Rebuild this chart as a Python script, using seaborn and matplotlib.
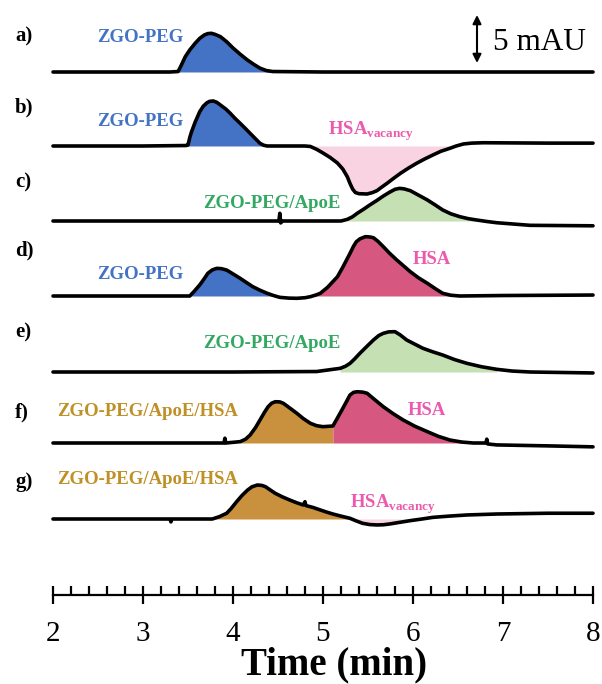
import numpy as np
import pandas as pd
import matplotlib
matplotlib.use("Agg")
import matplotlib.pyplot as plt
import seaborn as sns

# ---------------- data ----------------
trace_names = ["a", "b", "c", "d", "e", "f", "g"]

a_time = [2.0, 3.0, 3.30, 3.39, 3.42, 3.47, 3.52, 3.58, 3.63, 3.68, 3.72, 3.76, 3.80, 3.86, 3.93,
          4.00, 4.08, 4.16, 4.23, 4.30, 4.37, 4.44, 5.0, 6.0, 7.0, 8.0]
a_signal = [0.0, 0.0, 0.0, 0.05, 0.6, 1.6, 2.3, 3.0, 3.5, 3.85, 4.0, 4.03, 3.92, 3.68, 3.15,
            2.5, 1.85, 1.25, 0.8, 0.4, 0.15, 0.05, 0.0, 0.0, 0.0, 0.0]

b_time = [2.0, 3.0, 3.48, 3.50, 3.52, 3.54, 3.58, 3.63, 3.67, 3.71, 3.74, 3.78, 3.82, 3.86, 3.92,
          3.97, 4.02, 4.08, 4.14, 4.19, 4.25, 4.30, 4.34, 4.38, 4.80,
          4.86, 4.93, 5.00, 5.08, 5.16, 5.22, 5.27, 5.30, 5.33, 5.36, 5.40, 5.49, 5.55, 5.60, 5.65,
          5.71, 5.78, 5.86, 5.95, 6.04, 6.13, 6.22, 6.31, 6.41, 6.48, 6.56, 6.65, 6.78, 7.5, 8.0]
b_signal = [0.0, 0.0, 0.05, 0.1, 0.9, 1.5, 2.5, 3.57, 4.15, 4.5, 4.65, 4.69, 4.55, 4.27, 3.85,
            3.4, 2.9, 2.36, 1.8, 1.32, 0.75, 0.28, 0.08, 0.0, 0.0,
            -0.05, -0.35, -0.73, -1.2, -1.77, -2.4, -3.2, -3.9, -4.5, -4.85, -4.97, -5.0, -4.85, -4.65, -4.3,
            -3.9, -3.4, -2.85, -2.3, -1.8, -1.35, -0.94, -0.55, -0.24, 0.0, 0.21, 0.3, 0.34, 0.3, 0.3]

c_time = [2.0, 3.0, 4.0, 4.51, 4.52, 4.53, 4.55, 5.2, 5.27, 5.33, 5.38, 5.45, 5.52, 5.60, 5.67, 5.74,
          5.80, 5.85, 5.90, 5.97, 6.06, 6.16, 6.25, 6.33, 6.42, 6.52, 6.61, 6.71, 6.82, 6.93, 7.3, 8.0]
c_signal = [0.0, 0.0, 0.0, 0.0, 0.8, -0.2, 0.0, 0.0, 0.17, 0.45, 0.8, 1.22, 1.67, 2.15, 2.6, 3.0,
            3.3, 3.4, 3.35, 3.16, 2.7, 2.19, 1.65, 1.15, 0.75, 0.45, 0.25, 0.1, -0.05, -0.18, -0.45, -0.5]

d_time = [2.0, 3.0, 3.45, 3.52, 3.57, 3.63, 3.68, 3.72, 3.77, 3.82, 3.87, 3.93, 4.00, 4.08, 4.15,
          4.22, 4.30, 4.38, 4.45, 4.52, 4.62, 4.71, 4.80, 4.86, 4.92, 4.97, 5.05, 5.10, 5.16, 5.22,
          5.27, 5.30, 5.34, 5.37, 5.41, 5.47, 5.52, 5.56, 5.61, 5.67, 5.74, 5.82, 5.90, 5.97, 6.06,
          6.16, 6.25, 6.33, 6.42, 6.52, 7.0, 8.0]
d_signal = [0.0, 0.0, 0.0, 0.0, 0.5, 1.15, 1.8, 2.36, 2.72, 2.88, 2.85, 2.7, 2.3, 1.84, 1.4,
            0.97, 0.6, 0.28, 0.05, -0.14, -0.22, -0.24, -0.18, -0.07, 0.1, 0.28, 0.9, 1.4, 2.0, 3.0,
            3.9, 4.44, 5.2, 5.65, 5.95, 6.18, 6.15, 6.07, 5.7, 5.14, 4.45, 3.75, 3.1, 2.53, 1.9,
            1.32, 0.75, 0.28, 0.08, 0.0, 0.05, 0.1]

e_time = [2.0, 3.0, 4.0, 4.93, 5.19, 5.25, 5.30, 5.35, 5.41, 5.48, 5.56, 5.62, 5.67, 5.73, 5.80,
          5.86, 5.93, 6.02, 6.11, 6.22, 6.33, 6.46, 6.60, 6.76, 6.93, 7.1, 7.3, 8.0]
e_signal = [0.0, 0.0, 0.0, 0.05, 0.38, 0.6, 0.9, 1.35, 1.95, 2.6, 3.33, 3.8, 4.03, 4.18, 4.2,
            3.85, 3.33, 2.9, 2.47, 2.1, 1.77, 1.3, 0.9, 0.55, 0.28, 0.1, 0.0, -0.1]

f_time = [2.0, 3.0, 3.90, 3.91, 3.92, 4.08, 4.14, 4.19, 4.25, 4.30, 4.35, 4.39, 4.43, 4.47, 4.52,
          4.56, 4.63, 4.71, 4.78, 4.86, 4.93, 5.00, 5.11, 5.16, 5.21, 5.26, 5.30, 5.34, 5.38, 5.44,
          5.49, 5.57, 5.67, 5.78, 5.89, 6.02, 6.16, 6.28, 6.41, 6.54, 6.67, 6.81, 6.82, 6.83, 6.93,
          7.5, 8.0]
f_signal = [0.0, 0.0, 0.0, 0.5, 0.0, 0.14, 0.4, 0.83, 1.6, 2.4, 3.2, 3.78, 4.15, 4.3, 4.28,
            4.13, 3.65, 3.09, 2.55, 2.05, 1.8, 1.7, 1.77, 2.6, 3.44, 4.3, 5.0, 5.28, 5.34, 5.3,
            5.18, 4.55, 3.78, 3.05, 2.4, 1.75, 1.18, 0.7, 0.31, 0.1, 0.0, 0.0, 0.4, -0.1, -0.2,
            -0.3, -0.4]

g_time = [2.0, 3.0, 3.30, 3.31, 3.32, 3.77, 3.85, 3.93, 3.98, 4.04, 4.10, 4.16, 4.21, 4.27, 4.32,
          4.36, 4.41, 4.47, 4.55, 4.63, 4.70, 4.78, 4.80, 4.81, 4.89, 4.97, 5.04, 5.11, 5.20, 5.30,
          5.37, 5.44, 5.52, 5.60, 5.67, 5.74, 5.85, 5.97, 6.10, 6.22, 6.40, 6.60, 6.93, 7.5, 8.0]
g_signal = [0.0, 0.0, 0.0, -0.3, 0.0, 0.0, 0.25, 0.6, 1.1, 1.8, 2.45, 3.0, 3.35, 3.54, 3.5,
            3.37, 3.05, 2.67, 2.3, 1.98, 1.72, 1.46, 1.8, 1.4, 1.2, 0.94, 0.72, 0.52, 0.3, 0.07,
            -0.2, -0.45, -0.58, -0.62, -0.6, -0.52, -0.35, -0.17, 0.0, 0.17, 0.3, 0.42, 0.52, 0.6, 0.6]

# peak regions that are filled: (trace, start, end, kind)
fill_trace = ["a", "b", "b", "c", "d", "d", "e", "f", "f", "g", "g"]
fill_start = [3.39, 3.50, 4.86, 5.27, 3.52, 4.86, 5.19, 4.08, 5.11, 3.77, 5.30]
fill_end = [4.44, 4.38, 6.48, 6.71, 4.45, 6.52, 6.93, 5.11, 6.67, 5.30, 6.10]
fill_kind = ["peg", "peg", "vac", "apoe", "peg", "hsa", "apoe", "corona", "hsa", "corona", "vac"]

panel_labels = ["a)", "b)", "c)", "d)", "e)", "f)", "g)"]
x_ticks = [2, 3, 4, 5, 6, 7, 8]

# ---------------- styling / layout ----------------
W, H, DPI = 602, 684, 100
PX_PER_MAU = 9.6
AX_LEFT_PX, AX_RIGHT_PX, AX_BOTTOM_PX = 53, 593, 595
baseline_px = {"a": 72, "b": 146, "c": 221, "d": 296, "e": 372, "f": 443, "g": 519}
offsets = {k: (AX_BOTTOM_PX - v) / PX_PER_MAU for k, v in baseline_px.items()}

fill_colors = {"peg": "#4472C4", "vac": "#F9D3E1", "apoe": "#C5E0B3",
               "hsa": "#D6577F", "corona": "#C9913D"}
txt_blue, txt_green, txt_gold, txt_pink = "#4472C4", "#33A862", "#BF9025", "#EC5AAE"

sns.set_theme(style="white")
plt.rcParams["font.family"] = ["Liberation Serif", "DejaVu Serif"]
plt.rcParams["mathtext.fontset"] = "custom"
plt.rcParams["mathtext.rm"] = "Liberation Serif"
plt.rcParams["mathtext.bf"] = "Liberation Serif:bold"
plt.rcParams["text.color"] = "black"
plt.rcParams["axes.labelcolor"] = "black"
plt.rcParams["xtick.color"] = "black"
plt.rcParams["xtick.labelcolor"] = "black"

series = {"a": (a_time, a_signal), "b": (b_time, b_signal), "c": (c_time, c_signal),
          "d": (d_time, d_signal), "e": (e_time, e_signal), "f": (f_time, f_signal),
          "g": (g_time, g_signal)}

rows = []
for k in trace_names:
    t, s = series[k]
    for ti, si in zip(t, s):
        rows.append({"trace": k, "time": ti, "signal": si, "y": si + offsets[k]})
df = pd.DataFrame(rows)

fig = plt.figure(figsize=(W / DPI, H / DPI), dpi=DPI)
ax = fig.add_axes([AX_LEFT_PX / W, 1 - AX_BOTTOM_PX / H,
                   (AX_RIGHT_PX - AX_LEFT_PX) / W, AX_BOTTOM_PX / H])

# fills
for k, t0, t1, kind in zip(fill_trace, fill_start, fill_end, fill_kind):
    sub = df[df.trace == k]
    tt = sub.time.to_numpy()
    yy = sub.y.to_numpy()
    m = (tt >= t0 - 1e-9) & (tt <= t1 + 1e-9)
    ax.fill_between(tt, offsets[k], yy, where=m, color=fill_colors[kind],
                    lw=0, zorder=1, interpolate=False)

sns.lineplot(data=df, x="time", y="y", units="trace", estimator=None, sort=False,
             color="black", lw=2.6, ax=ax, zorder=3, legend=False)
for l in ax.lines:
    l.set_solid_joinstyle("round")
    l.set_solid_capstyle("round")
    l.set_clip_on(False)

ax.set_xlim(2, 8)
ax.set_ylim(0, AX_BOTTOM_PX / PX_PER_MAU)
for s in ["left", "right", "top"]:
    ax.spines[s].set_visible(False)
ax.spines["bottom"].set_linewidth(1.6)
ax.spines["bottom"].set_color("black")
ax.set_yticks([])
ax.set_ylabel("")
ax.set_xticks(x_ticks)
ax.set_xticklabels([str(v) for v in x_ticks])
ax.set_xticks(np.arange(2, 8.001, 0.2), minor=True)
ax.tick_params(axis="x", which="major", direction="inout", length=13, width=1.6,
               color="black", labelcolor="black", labelsize=21, pad=12, bottom=True)
ax.tick_params(axis="x", which="minor", direction="in", length=6.5, width=1.6,
               color="black", bottom=True)
ax.set_xlabel("Time (min)", fontsize=28, fontweight="bold", labelpad=0, color="black")
ax.xaxis.label.set_x((334 - AX_LEFT_PX) / (AX_RIGHT_PX - AX_LEFT_PX))


def fpos(px, py):
    return px / W, 1 - py / H


# panel letters
label_y = [36, 107, 182, 250, 332, 412, 482]
for lab, py in zip(panel_labels, label_y):
    fig.text(*fpos(15, py), lab, fontsize=15, fontweight="bold", ha="left", va="center",
             color="black")

# peak annotations
peak_texts = [
    ("ZGO-PEG", 97, 38, txt_blue),
    ("ZGO-PEG", 97, 121, txt_blue),
    ("ZGO-PEG/ApoE", 203, 203, txt_green),
    ("ZGO-PEG", 97, 274, txt_blue),
    ("HSA", 413, 260, txt_pink),
    ("ZGO-PEG/ApoE", 203, 343, txt_green),
    ("ZGO-PEG/ApoE/HSA", 57, 412, txt_gold),
    ("HSA", 408, 410, txt_pink),
    ("ZGO-PEG/ApoE/HSA", 57, 480, txt_gold),
]
for s, px, py, c in peak_texts:
    fig.text(*fpos(px, py), s, fontsize=13.5, fontweight="bold", color=c,
             ha="left", va="center")

for px, py in [(328, 135), (350, 508)]:
    fig.text(*fpos(px, py), r"HSA$_{\mathbf{vacancy}}$", fontsize=13.5, fontweight="bold",
             color=txt_pink, ha="left", va="baseline")

# 5 mAU scale bar
fig.patches.append(matplotlib.patches.FancyArrowPatch(
    fpos(477, 15), fpos(477, 63), transform=fig.transFigure,
    arrowstyle="<|-|>,head_length=5,head_width=2.5", color="black", lw=1.5,
    shrinkA=0, shrinkB=0))
fig.text(*fpos(493, 42), "5 mAU", fontsize=22.5, ha="left", va="center", color="black")

fig.savefig("out.png", dpi=DPI)
